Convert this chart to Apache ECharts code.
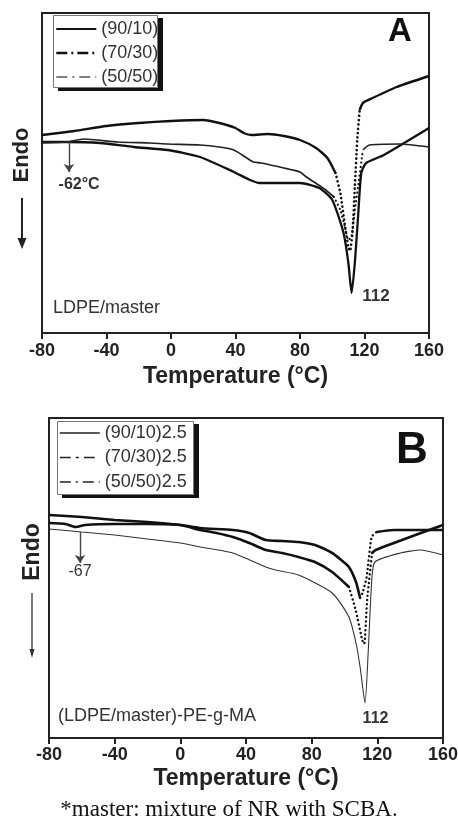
<!DOCTYPE html>
<html><head><meta charset="utf-8">
<script src="https://cdn.jsdelivr.net/npm/echarts@6/dist/echarts.min.js"></script>
<style>html,body{margin:0;padding:0;background:#fff;}#c{width:458px;height:826px;}</style>
</head><body><div id="c"></div>
<script>
// ---------- data ----------
const tempTicks = [-80, -40, 0, 40, 80, 120, 160];
const legendA = ['(90/10)', '(70/30)', '(50/50)'];
const legendB = ['(90/10)2.5', '(70/30)2.5', '(50/50)2.5'];

// Panel A : LDPE/master (heat flow, arbitrary units; endo down)
const tA_9010 = [-80,-65,-44,-23,-2,18,39,49,55,80,92,100,107,110,112,114,116,118,121,132,160];
const hA_9010 = [19.1,19.1,19.0,18.6,18.3,17.6,16.1,15.3,15.0,15.0,14.5,13.3,10.0,7.0,4.0,7.0,11.6,16.0,17.0,17.8,20.5];
const tA_7030 = [-80,-60,-40,-20,0,20,30,40,45,50,60,70,80,90,97,102,105,108,110,111,112.5,114,115.5,117,119,125,140,160];
const hA_7030 = [19.8,20.2,20.7,21.0,21.2,21.3,21.0,20.5,20.0,19.8,19.9,19.7,19.3,18.5,17.5,16.0,14.0,10.6,8.6,8.2,10.0,14.6,19.3,22.3,23.0,23.5,24.6,25.7];
const tA_5050 = [-80,-65,-54,-33,-13,-2,18,30,39,47,51,56,70,80,84,96,101,105,108,110,112,114,116,119,123,142,160];
const hA_5050 = [19.0,19.1,19.4,19.1,19.0,18.9,18.8,18.6,18.3,17.5,17.1,17.0,16.5,16.1,15.6,14.3,13.6,12.3,10.5,9.3,9.7,12.3,14.6,18.3,18.8,18.9,18.6];

// Panel B : (LDPE/master)-PE-g-MA
const tB_9010 = [-80,-60,-40,-20,0,12,32,52,58,72,92.5,102.7,107,109.5,112.5,114.5,116.5,118.5,134,146,160];
const hB_9010 = [20.9,20.6,20.3,19.9,19.5,19.1,18.5,17.1,16.8,16.3,14.5,12.1,9.5,7.1,3.5,8.8,15.5,17.6,18.5,18.8,18.3];
const tB_7030 = [-80,-60,-40,-20,0,12,32,42,52,62,72,82,92.5,98,102.7,107,109.5,111,113.5,116.5,119.5,130,160];
const hB_7030 = [22.3,22.1,21.8,21.6,21.3,21.0,20.8,20.5,19.8,19.7,19.6,19.3,18.5,17.8,17.1,15.6,14.0,14.5,16.1,20.1,20.6,20.8,20.8];
const tB_5050 = [-80,-70,-64,-58,-40,-20,0,12,22,32,42,52,62,72,82,92.5,102.7,106.8,110.8,112,113.8,116.8,119,135,160];
const hB_5050 = [21.5,21.4,21.1,21.3,21.4,21.4,21.3,20.8,20.5,20.1,19.5,18.8,18.5,18.1,17.6,16.6,15.1,12.8,9.8,9.4,13.8,18.5,18.8,19.8,21.3];

// annotations (temperature, heat flow)
const tgA = {t: -63.3, from: 19.1, to: 16.1, label: '-62°C', lt: -57, lv: 14.8};
const tgB = {t: -61.1, from: 20.6, to: 17.5, label: '-67', lt: -61.1, lv: 16.6};
const peakA = {t: 127.1, v: 3.7, label: '112'};
const peakB = {t: 118.9, v: 1.9, label: '112'};

// ---------- helpers ----------
const FONT = 'Liberation Sans, Arial, sans-serif';
function pts(ts, hs) { return ts.map((t, i) => [t, hs[i]]); }
function solidPart(ts, hs, a, b) {
  return ts.map((t, i) => (t <= a || t >= b) ? [t, hs[i]] : [t, '-']);
}
function dotPart(ts, hs, a, b) {
  const out = [];
  ts.forEach((t, i) => { if (t >= a && t <= b) out.push([t, hs[i]]); });
  return out;
}
function line(name, gi, data, width, color, extra) {
  return Object.assign({
    type: 'line', name: name, xAxisIndex: gi, yAxisIndex: gi, data: data,
    symbol: 'none', smooth: 0.2, connectNulls: false, silent: true,
    lineStyle: {color: color, width: width, type: 'solid'}, itemStyle: {color: color}, z: 3
  }, extra || {});
}
function dots(name, gi, data, width) {
  return line(name, gi, data, width, '#111', {
    lineStyle: {color: '#111', width: width, type: [0.1, 4.2], cap: 'round'}
  });
}
function annot(tg, peak, boldTg) {
  return {
    markLine: {
      silent: true, symbol: ['none', 'arrow'], symbolSize: 8, animation: false,
      lineStyle: {color: '#444', width: 1.4, type: 'solid'}, label: {show: false},
      data: [[{coord: [tg.t, tg.from]}, {coord: [tg.t, tg.to]}]]
    },
    markPoint: {
      silent: true, symbol: 'rect', symbolSize: 1, itemStyle: {color: 'rgba(0,0,0,0)'}, animation: false,
      data: [
        {coord: [tg.lt, tg.lv], label: {show: true, position: 'inside', formatter: tg.label,
          fontFamily: FONT, fontSize: 16, fontWeight: boldTg ? 'bold' : 'normal', color: '#333'}},
        {coord: [peak.t, peak.v], label: {show: true, position: 'inside', formatter: peak.label,
          fontFamily: FONT, fontSize: boldTg ? 17 : 16, fontWeight: 'bold', color: '#333'}}
      ]
    }
  };
}
function xAxis(gi, margin, gap) {
  return {
    type: 'value', gridIndex: gi, min: -80, max: 160, interval: 40,
    name: 'Temperature (°C)', nameLocation: 'middle', nameGap: gap,
    nameTextStyle: {fontFamily: FONT, fontSize: 23, fontWeight: 'bold', color: '#222'},
    axisLine: {show: true, onZero: false, lineStyle: {color: '#222', width: 2}},
    axisTick: {show: true, inside: false, length: 6, lineStyle: {color: '#222', width: 2}},
    axisLabel: {show: true, margin: margin, fontFamily: FONT, fontSize: 18, fontWeight: 'bold', color: '#222',
      showMinLabel: true, showMaxLabel: true, hideOverlap: false,
      customValues: tempTicks},
    splitLine: {show: false}
  };
}
function yAxis(gi) {
  return {type: 'value', gridIndex: gi, min: 0, max: 32, axisLine: {show: false}, axisTick: {show: false},
    axisLabel: {show: false}, splitLine: {show: false}};
}
function legend(names, left, top, pad, gap, styles) {
  return {
    show: true, orient: 'vertical', left: left, top: top, padding: pad, itemGap: gap,
    itemWidth: 40, itemHeight: 14, selectedMode: false, z: 4,
    backgroundColor: 'rgba(0,0,0,0)', borderWidth: 0,
    itemStyle: {opacity: 0},
    textStyle: {fontFamily: FONT, fontSize: 18, color: '#333', lineHeight: 18},
    data: names.map((n, i) => ({name: n, lineStyle: styles[i], itemStyle: {opacity: 0}}))
  };
}
// legend frame (white box, thin border, hard black drop shadow)
function frame(x, y, w, h) {
  return [
    {type: 'rect', z: 1, shape: {x: x + 5, y: y + 3, width: w, height: h}, style: {fill: '#111'}},
    {type: 'rect', z: 2, shape: {x: x, y: y, width: w, height: h}, style: {fill: '#fff'}},
    {type: 'rect', z: 6, shape: {x: x + 0.5, y: y + 0.5, width: w - 1, height: h - 1}, style: {fill: 'none', stroke: '#777', lineWidth: 1}}
  ];
}

const chart = echarts.init(document.getElementById('c'), null, {renderer: 'canvas'});
chart.setOption({
  animation: false,
  backgroundColor: '#fff',
  grid: [
    {left: 42, top: 13, width: 387, height: 320, show: true, borderColor: '#222', borderWidth: 2,
      backgroundColor: 'rgba(0,0,0,0)', containLabel: false, outerBoundsMode: 'none'},
    {left: 49, top: 418, width: 394, height: 320, show: true, borderColor: '#222', borderWidth: 2,
      backgroundColor: 'rgba(0,0,0,0)', containLabel: false, outerBoundsMode: 'none'}
  ],
  xAxis: [xAxis(0, 9, 32), xAxis(1, 8, 29)],
  yAxis: [yAxis(0), yAxis(1)],
  legend: [
    legend(legendA, 53, 15, [5, 5, 2, 2], 6, [
      {color: '#111', width: 2, type: 'solid'},
      {color: '#111', width: 2.6, type: [11, 4, 2, 4]},
      {color: '#555', width: 1.6, type: [11, 5, 2, 5]}
    ]),
    legend(legendB, 57, 421, [3, 6, 4, 2], 6.5, [
      {color: '#222', width: 1.5, type: 'solid'},
      {color: '#222', width: 1.6, type: [11, 5, 3, 5]},
      {color: '#222', width: 1.6, type: [11, 5, 2, 5]}
    ])
  ],
  series: [
    // Panel A
    line(legendA[0], 0, pts(tA_9010, hA_9010), 2.3, '#111', annot(tgA, peakA, true)),
    line(legendA[1], 0, solidPart(tA_7030, hA_7030, 102, 117), 2.4, '#111'),
    dots(legendA[1], 0, dotPart(tA_7030, hA_7030, 102, 117), 2.6),
    line(legendA[2], 0, solidPart(tA_5050, hA_5050, 101, 119), 1.7, '#222'),
    dots(legendA[2], 0, dotPart(tA_5050, hA_5050, 101, 119), 2.2),
    // Panel B
    line(legendB[0], 1, pts(tB_9010, hB_9010), 1.1, '#333', annot(tgB, peakB, false)),
    line(legendB[1], 1, solidPart(tB_7030, hB_7030, 109.5, 119.5), 2.6, '#111'),
    dots(legendB[1], 1, dotPart(tB_7030, hB_7030, 109.5, 119.5), 2.4),
    line(legendB[2], 1, solidPart(tB_5050, hB_5050, 102.7, 116.8), 2.6, '#111'),
    dots(legendB[2], 1, dotPart(tB_5050, hB_5050, 102.7, 116.8), 2.4)
  ],
  graphic: [].concat(frame(53, 15, 105, 73), frame(57, 421, 137, 74), [
    {type: 'text', x: 400, y: 32, z: 10, style: {text: 'A', font: 'bold 33px ' + FONT, fill: '#111', align: 'center', verticalAlign: 'middle'}},
    {type: 'text', x: 412, y: 451, z: 10, style: {text: 'B', font: 'bold 44px ' + FONT, fill: '#111', align: 'center', verticalAlign: 'middle'}},
    {type: 'text', x: 53, y: 308, z: 10, style: {text: 'LDPE/master', font: '18px ' + FONT, fill: '#333', align: 'left', verticalAlign: 'middle'}},
    {type: 'text', x: 58, y: 716, z: 10, style: {text: '(LDPE/master)-PE-g-MA', font: '18px ' + FONT, fill: '#333', align: 'left', verticalAlign: 'middle'}},
    // y-axis "Endo" with downward arrows
    {type: 'text', x: 22, y: 155, rotation: Math.PI / 2, z: 10, style: {text: 'Endo', font: 'bold 22px ' + FONT, fill: '#222', align: 'center', verticalAlign: 'middle'}},
    {type: 'line', z: 10, shape: {x1: 22, y1: 198, x2: 22, y2: 240}, style: {stroke: '#222', lineWidth: 2}},
    {type: 'polygon', z: 10, shape: {points: [[17.5, 238], [26.5, 238], [22, 249]]}, style: {fill: '#222'}},
    {type: 'text', x: 33, y: 552, rotation: Math.PI / 2, z: 10, style: {text: 'Endo', font: 'bold 23px ' + FONT, fill: '#222', align: 'center', verticalAlign: 'middle'}},
    {type: 'line', z: 10, shape: {x1: 32, y1: 593, x2: 32, y2: 651}, style: {stroke: '#333', lineWidth: 1.3}},
    {type: 'polygon', z: 10, shape: {points: [[29.5, 649], [34.5, 649], [32, 658]]}, style: {fill: '#333'}},
    // footnote
    {type: 'text', x: 229, y: 810, z: 10, style: {text: '*master: mixture of NR with SCBA.', font: '23px Liberation Serif, Times New Roman, serif', fill: '#111', align: 'center', verticalAlign: 'middle'}}
  ])
});
</script>
</body></html>
